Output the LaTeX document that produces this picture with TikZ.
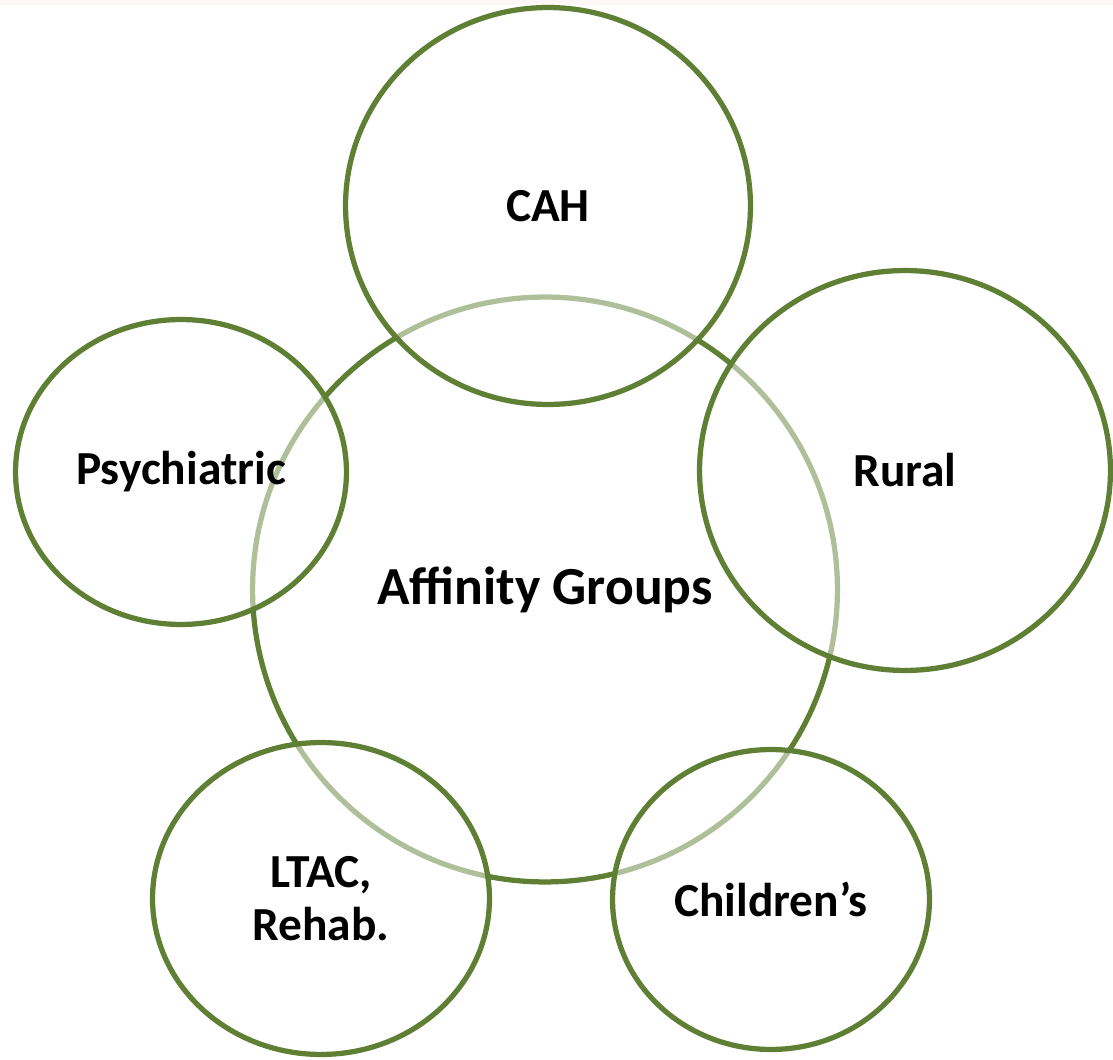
\documentclass[tikz,border=0pt]{standalone}
\usepackage{fontspec}
\setmainfont{Carlito}
\usepackage{tikz}
\usetikzlibrary{shapes.geometric}

\definecolor{leafgreen}{RGB}{95,128,52}
\definecolor{topband}{RGB}{253,248,247}

\tikzset{
	hub/.style={circle, draw=leafgreen, line width=0.105cm, minimum size=11.7cm, inner sep=0pt,
		font=\fontsize{30.5}{34}\selectfont\bfseries},
	group/.style={ellipse, draw=leafgreen, line width=0.105cm, fill=white, fill opacity=0.5,
		text opacity=1, inner sep=0pt, align=center,
		font=\fontsize{27}{30}\selectfont\bfseries}
}

\begin{document}
\begin{tikzpicture}[x=0.02cm, y=-0.02cm]
	\useasboundingbox (0,0) rectangle (1113,1060);
	\fill[topband] (0,0) rectangle (1113,5);

	% centre
	\node[hub] (hub) at (545,589.5) {Affinity Groups};

	% groups round it
	\node[group, minimum width=8.1cm, minimum height=7.94cm] (cah) at (548,206) {CAH};
	\node[group, minimum width=8.22cm, minimum height=8cm] (rural) at (905,470.5) {Rural};
	\node[group, minimum width=6.62cm, minimum height=6.1cm] (psych) at (181,472) {Psychiatric};
	\node[group, minimum width=6.74cm, minimum height=6.24cm] (ltac) at (321,898.5) {LTAC,\\Rehab.};
	\node[group, minimum width=6.34cm, minimum height=6cm] (child) at (771,899.5) {Children’s};
\end{tikzpicture}
\end{document}
